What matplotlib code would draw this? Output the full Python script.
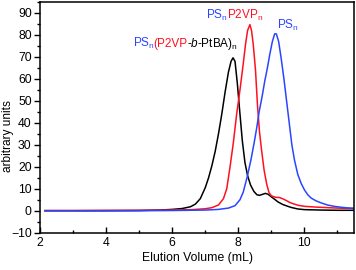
import matplotlib
matplotlib.use("Agg")
import matplotlib.pyplot as plt
from matplotlib.transforms import IdentityTransform

plt.rcParams['font.family'] = ['Liberation Sans', 'DejaVu Sans']
plt.rcParams['mathtext.fontset'] = 'custom'
plt.rcParams['mathtext.rm'] = 'Liberation Sans'
plt.rcParams['mathtext.it'] = 'Liberation Sans:italic'

# ---- data ----
black_x = [2.15, 3.0, 4.0, 5.0, 5.6, 6.0, 6.3, 6.55, 6.7, 6.85, 7.0, 7.1, 7.2, 7.3, 7.4, 7.5, 7.6,
           7.7, 7.78, 7.84, 7.9, 7.97, 8.05, 8.12, 8.2, 8.28, 8.37, 8.47, 8.56, 8.64, 8.72,
           8.82, 8.9, 9.0, 9.1, 9.2, 9.35, 9.5, 9.6, 9.8, 10.0, 10.5, 11.0, 11.5]
black_y = [0.0, 0.0, 0.0, 0.1, 0.3, 0.6, 1.0, 1.8, 3.0, 5.5, 10.5, 15.0, 20.5, 27.0, 35.0, 44.0, 54.0,
           63.0, 68.0, 69.6, 68.0, 58.0, 44.0, 32.0, 22.0, 16.0, 11.7, 8.8, 7.3, 7.0, 7.4,
           7.9, 7.5, 6.3, 5.2, 4.0, 2.8, 2.0, 1.5, 0.8, 0.5, 0.3, 0.2, 0.2]

red_x = [2.15, 3.0, 4.0, 5.0, 6.0, 6.6, 7.0, 7.2, 7.4, 7.55, 7.65, 7.75, 7.85, 7.95, 8.05,
         8.15, 8.22, 8.28, 8.35, 8.4, 8.45, 8.52, 8.58, 8.64, 8.7, 8.78, 8.86, 8.93, 9.0,
         9.13, 9.25, 9.38, 9.48, 9.58, 9.8, 10.0, 10.3, 10.7, 11.0, 11.5]
red_y = [0.1, 0.1, 0.2, 0.2, 0.3, 0.5, 0.9, 1.4, 2.6, 5.5, 10.0, 20.0, 31.0, 44.0, 55.0,
         67.0, 76.0, 82.0, 84.7, 82.0, 76.0, 64.0, 48.0, 36.0, 28.0, 18.5, 12.0, 8.2, 6.8,
         6.1, 6.0, 5.2, 4.4, 3.6, 2.5, 2.0, 1.7, 1.4, 1.2, 1.0]

blue_x = [2.15, 3.0, 4.0, 5.0, 6.0, 7.0, 7.4, 7.7, 7.9, 8.05, 8.15, 8.27, 8.38, 8.48, 8.56,
          8.63, 8.72, 8.8, 8.88, 8.95, 9.03, 9.1, 9.15, 9.22, 9.3, 9.38, 9.46, 9.54, 9.62,
          9.7, 9.8, 9.9, 10.0, 10.1, 10.2, 10.35, 10.5, 10.7, 10.9, 11.1, 11.3, 11.5]
blue_y = [0.0, 0.0, 0.0, 0.0, 0.1, 0.3, 0.6, 1.2, 2.3, 5.0, 8.5, 15.5, 23.0, 31.0, 38.0,
          45.0, 52.0, 59.0, 65.0, 71.0, 77.0, 80.5, 80.5, 77.0, 69.0, 60.0, 50.0, 40.0, 30.0,
          23.0, 16.5, 12.5, 9.5, 7.3, 5.8, 4.5, 3.6, 2.6, 2.0, 1.6, 1.3, 1.1]

xticks = [2, 4, 6, 8, 10]
yticks = [-10, 0, 10, 20, 30, 40, 50, 60, 70, 80, 90]

BLUE = '#2a45ff'
RED = '#ff1020'
BLACK = '#000000'

fig = plt.figure(figsize=(3.56, 2.70), dpi=100)
ax = fig.add_axes([40/356, 1-232.7/270, (354-40)/356, (232.7-2)/270])

ax.plot(black_x, black_y, color=BLACK, lw=1.1)
ax.plot(red_x, red_y, color=RED, lw=1.1)
ax.plot(blue_x, blue_y, color=BLUE, lw=1.1)

ax.set_xlim(2, 11.5)
ax.set_ylim(-10, 95)
ax.set_xticks(xticks)
ax.set_yticks(yticks)
ax.set_xticks([3, 5, 7, 9, 11], minor=True)
ax.set_yticks([v + 5 for v in yticks[:-1]] + [95], minor=True)
ax.tick_params(axis='x', which='major', direction='in', length=4, width=1, labelsize=8.8, pad=3)
ax.tick_params(axis='x', which='minor', direction='in', length=2, width=1)
ax.tick_params(axis='y', which='major', direction='out', length=4, width=1, labelsize=8.8, pad=2)
ax.tick_params(axis='y', which='minor', direction='out', length=2, width=1)
for s in ax.spines.values():
    s.set_linewidth(1.1)

ax.set_xlabel('Elution Volume (mL)', fontsize=8.8, labelpad=2)
fig.text(8/356, 1 - 136/270, 'arbitrary units', fontsize=8.6, rotation=90,
         ha='center', va='center')

fig.canvas.draw()
renderer = fig.canvas.get_renderer()

def multicolor(x, y, parts, fs=8.5):
    px, py = ax.transData.transform((x, y))
    for s, c, st in parts:
        t = fig.text(px, py, s, color=c, fontsize=fs, va='baseline', ha='left',
                     fontstyle=st, transform=IdentityTransform())
        bb = t.get_window_extent(renderer=renderer)
        px = bb.x1 - (1.5 if s.endswith('$') else 0.3)

multicolor(4.82, 74.5, [(r'PS$_\mathrm{n}$', BLUE, 'normal'), ('(P2VP', RED, 'normal'),
                        ('-', BLACK, 'normal'), ('b', BLACK, 'italic'),
                        (r'-PtBA)$_\mathrm{n}$', BLACK, 'normal')])
multicolor(7.03, 87.5, [(r'PS$_\mathrm{n}$', BLUE, 'normal'),
                        (r'P2VP$_\mathrm{n}$', RED, 'normal')])
multicolor(9.17, 82.9, [(r'PS$_\mathrm{n}$', BLUE, 'normal')])

fig.savefig('out.png', dpi=100)
